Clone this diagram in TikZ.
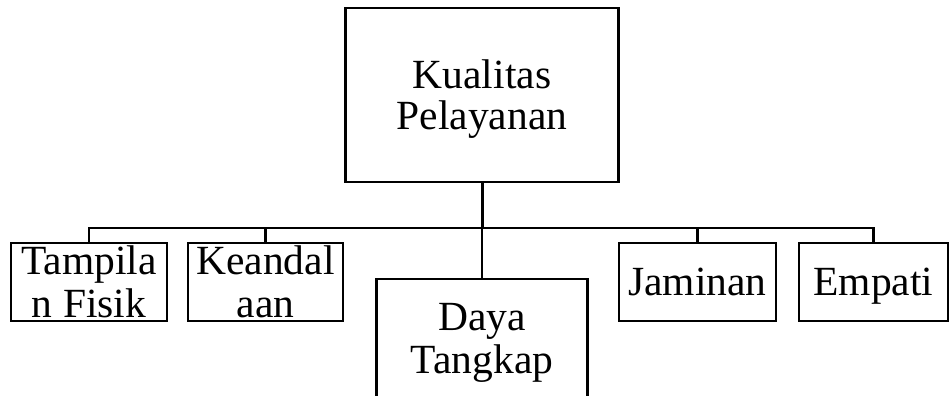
\documentclass[tikz,border=0pt]{standalone}
\usepackage{fontspec}
\setmainfont{Liberation Serif}
\begin{document}
\begin{tikzpicture}[x=1pt,y=-1pt,line width=2.3pt,
  box/.style={draw, align=center, inner sep=0pt, text depth=0pt, line width=2.8pt,
    font=\fontsize{41.5}{43}\selectfont}]
\useasboundingbox (0,0) rectangle (950,396);
\node[box, minimum width=273pt, minimum height=174pt, font=\fontsize{41.5}{41}\selectfont] (kp) at (482,95) {Kualitas\\Pelayanan};
\node[box, minimum width=156pt, minimum height=78pt] (tf) at (89,282) {Tampila\\n Fisik};
\node[box, minimum width=155pt, minimum height=78pt] (ke) at (265.5,282) {Keandal\\aan};
\node[box, minimum width=211pt, minimum height=140pt, text depth=22pt] (dt) at (482,349) {Daya\\Tangkap};
\node[box, minimum width=157pt, minimum height=78pt] (ja) at (697.5,282) {Jaminan};
\node[box, minimum width=149pt, minimum height=78pt] (em) at (873.5,282) {Empati};
\coordinate (bus) at (482,228);
\draw[line width=3pt] (kp.south) -- (bus);
\draw (bus) -| (tf.north);
\draw (bus) -| (ke.north);
\draw (bus) -- (dt.north);
\draw (bus) -| (ja.north);
\draw (bus) -| (em.north);
\end{tikzpicture}
\end{document}
